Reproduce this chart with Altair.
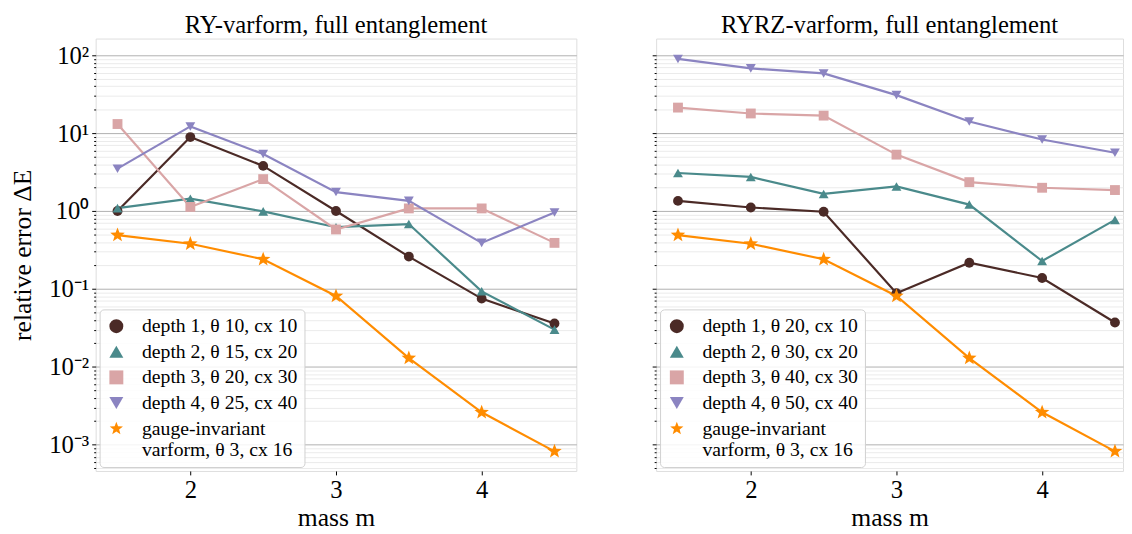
import math
import altair as alt
import pandas as pd

masses = [1.5, 2.0, 2.5, 3.0, 3.5, 4.0, 4.5]

ry_labels = ["depth 1, θ 10, cx 10", "depth 2, θ 15, cx 20", "depth 3, θ 20, cx 30",
             "depth 4, θ 25, cx 40", "gauge-invariant|\u00a0varform, θ 3, cx 16"]
ryrz_labels = ["depth 1, θ 20, cx 10", "depth 2, θ 30, cx 20", "depth 3, θ 40, cx 30",
               "depth 4, θ 50, cx 40", "gauge-invariant|\u00a0varform, θ 3, cx 16"]

ry_depth1 = [1.0, 8.9, 3.8, 1.0, 0.26, 0.075, 0.036]
ry_depth2 = [1.09, 1.44, 0.99, 0.62, 0.68, 0.093, 0.030]
ry_depth3 = [13.1, 1.13, 2.57, 0.58, 1.08, 1.08, 0.39]
ry_depth4 = [3.5, 12.2, 5.4, 1.75, 1.35, 0.39, 0.96]
gauge = [0.49, 0.38, 0.24, 0.081, 0.0129, 0.0026, 0.00082]

ryrz_depth1 = [1.35, 1.11, 0.98, 0.088, 0.217, 0.138, 0.037]
ryrz_depth2 = [3.08, 2.74, 1.66, 2.07, 1.21, 0.228, 0.77]
ryrz_depth3 = [21.3, 17.9, 16.8, 5.3, 2.35, 1.99, 1.86]
ryrz_depth4 = [89.8, 67.9, 58.5, 30.8, 14.1, 8.3, 5.6]

colors = ["#4b2a26", "#4a8a8b", "#d9a5a6", "#8b84c1", "#ff8c00"]

# star path
pts = []
for i in range(10):
    r = 1.0 if i % 2 == 0 else 0.42
    a = -math.pi / 2 + i * math.pi / 5
    pts.append(f"{r*math.cos(a):.3f},{r*math.sin(a):.3f}")
star = "M" + " L".join(pts) + " Z"
shapes = ["circle", "triangle-up", "square", "triangle-down", star]

FONT = "Liberation Serif"
YMIN, YMAX = 10 ** -3.338, 10 ** 2.215
PXU = 488 / 3.3

tick_vals = [d * 10.0 ** k for k in range(-4, 3) for d in range(1, 10)]
tick_vals = [v for v in tick_vals if YMIN <= v <= YMAX]
tick_vals = [float(f"{v:.6g}") for v in tick_vals]

is_dec = "abs(log(datum.value)/LN10 - round(log(datum.value)/LN10)) < 0.001"
sup = {2: "²", 1: "¹", 0: "⁰", -1: "⁻¹", -2: "⁻²", -3: "⁻³"}
e = "round(log(datum.value)/LN10)"
lab = "''"
for k, s in sup.items():
    lab = f"({e} == {k} ? '10{s}' : {lab})"
label_expr = f"({is_dec}) ? {lab} : ''"


def make_df(labels, series):
    rows = []
    for lbl, vals in zip(labels, series):
        for m, v in zip(masses, vals):
            rows.append({"m": m, "err": v, "series": lbl})
    return pd.DataFrame(rows)


def panel(df, labels, title, xmax, width, show_labels):
    yaxis = alt.Axis(
        values=tick_vals,
        labelExpr=label_expr if show_labels else "''",
        labels=show_labels,
        title="relative error ΔE" if show_labels else None,
        grid=True,
        gridColor={"condition": {"test": is_dec, "value": "#b0b0b0"}, "value": "#ebebeb"},
        gridWidth=1,
        tickSize={"condition": {"test": is_dec, "value": 4}, "value": 2},
        tickColor="black",
        domain=False,
        labelFont=FONT, labelFontSize=25, labelColor="black", labelPadding=3,
        titleFont=FONT, titleFontSize=26, titleFontWeight="normal", titleColor="black",
        titlePadding=14,
    )
    xaxis = alt.Axis(values=[2, 3, 4], grid=False, title="mass m", tickSize=4, tickColor="black",
                     domain=False, labelFont=FONT, labelFontSize=25, labelColor="black",
                     labelPadding=3, titleFont=FONT, titleFontSize=26, titleFontWeight="normal",
                     titleColor="black", titlePadding=2)
    x = alt.X("m:Q", scale=alt.Scale(domain=[1.35, xmax], nice=False, zero=False), axis=xaxis)
    y = alt.Y("err:Q", scale=alt.Scale(type="log", domain=[YMIN, YMAX], nice=False), axis=yaxis)
    legend = alt.Legend(
        title=None, orient="bottom-left", offset=4, padding=7,
        fillColor="rgba(255,255,255,0.85)", strokeColor="#d0d0d0", cornerRadius=4,
        labelFont=FONT, labelFontSize=20, labelColor="black", labelLimit=400,
        labelExpr="split(datum.label, '|')", symbolSize=200, symbolStrokeWidth=0,
        rowPadding=6, labelOffset=16, symbolOpacity=1,
    )
    cscale = alt.Scale(domain=labels, range=colors)
    sscale = alt.Scale(domain=labels, range=shapes)
    base = alt.Chart(df).encode(x=x, y=y)
    # lines: stroke scale with data-driven (sorted) domain so its disabled legend
    # is not merged with the marker legend
    line = base.mark_line(strokeWidth=2.2).encode(
        stroke=alt.Stroke("series:N", scale=alt.Scale(range=colors), legend=None),
        detail="series:N",
    )
    enc = dict(
        color=alt.Color("series:N", scale=cscale, legend=legend),
        shape=alt.Shape("series:N", scale=sscale, legend=legend),
    )
    pts_depth = base.transform_filter(
        alt.FieldOneOfPredicate(field="series", oneOf=labels[:4])
    ).mark_point(filled=True, opacity=1, size=100).encode(**enc)
    pts_gauge = base.transform_filter(
        alt.FieldEqualPredicate(field="series", equal=labels[4])
    ).mark_point(filled=True, opacity=1, size=240).encode(**enc)
    return alt.layer(line, pts_depth, pts_gauge).properties(
        width=width, height=439,
        title=alt.Title(title, font=FONT, fontSize=25, fontWeight="normal", color="black", offset=1),
    )


df_ry = make_df(ry_labels, [ry_depth1, ry_depth2, ry_depth3, ry_depth4, gauge])
df_ryrz = make_df(ryrz_labels, [ryrz_depth1, ryrz_depth2, ryrz_depth3, ryrz_depth4, gauge])

w2 = 474
left = panel(df_ry, ry_labels, "RY-varform, full entanglement", 4.65, 488, True)
right = panel(df_ryrz, ryrz_labels, "RYRZ-varform, full entanglement", 1.35 + w2 / PXU, w2, False)

chart = alt.hconcat(left, right, spacing=75).resolve_scale(
    color="independent", shape="independent", stroke="independent", y="independent", x="independent"
).resolve_legend(color="independent", shape="independent").properties(
    padding={"left": 1, "top": 0, "right": 0, "bottom": 0}
).configure_view(stroke="black", strokeWidth=1.2).configure_legend(
    labelFont=FONT, labelFontSize=20, labelColor="black"
).configure(background="white")

chart.save("out.html", embed_options={"renderer": "svg", "actions": False})
